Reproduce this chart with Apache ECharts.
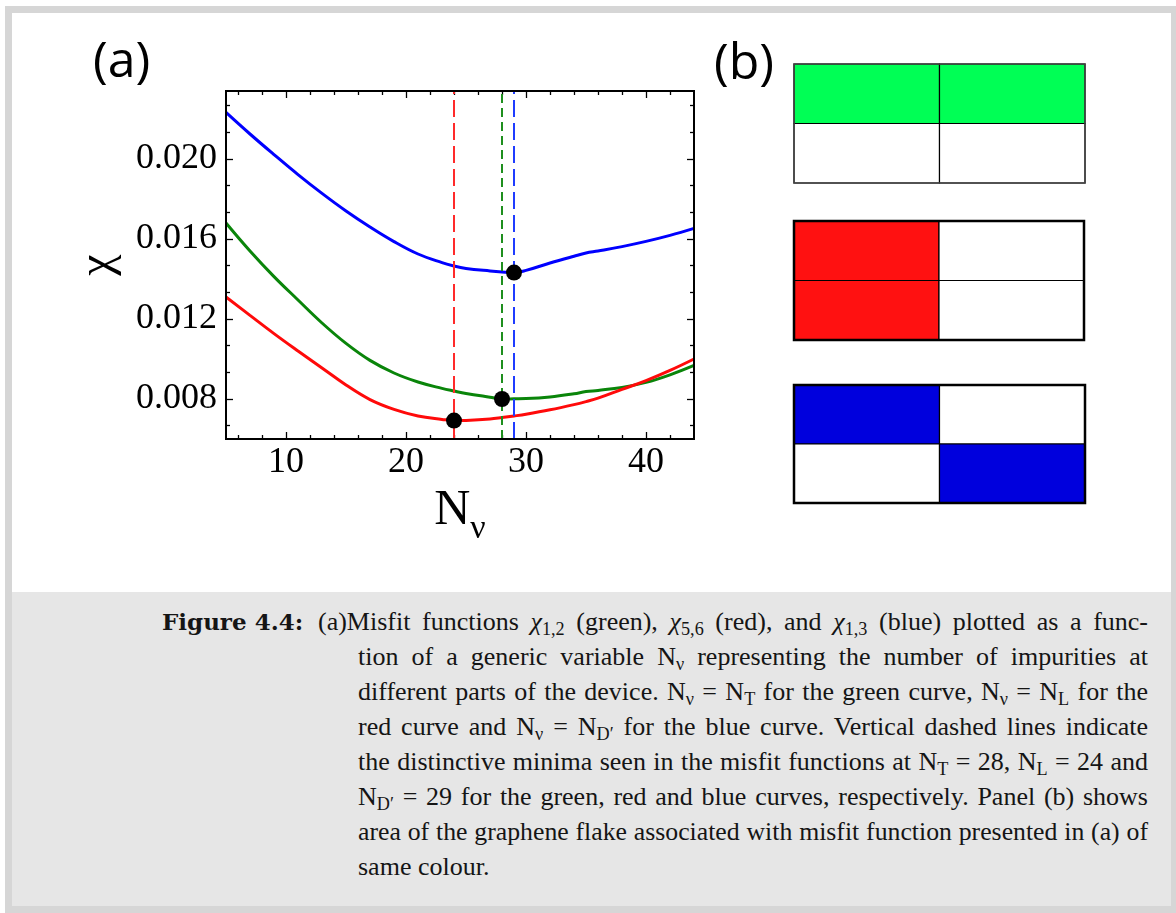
<!DOCTYPE html>
<html>
<head>
<meta charset="utf-8">
<title>Misfit functions</title>
<script src="https://cdn.jsdelivr.net/npm/echarts@6/dist/echarts.min.js"></script>
<style>
  html, body { margin: 0; padding: 0; background: #fff; }
  #frame { position: absolute; left: 5px; top: 6px; width: 1171px; height: 907px; box-sizing: border-box;
           border: 7px solid #d6d6d6; border-right-width: 5px; background: #fff; }
  #chart { position: absolute; left: 0; top: 0; width: 1176px; height: 590px; }
  #caption { position: absolute; left: 12px; top: 592px; width: 1159px; height: 314px; background: #e6e6e6;
             font-family: 'Liberation Serif', serif; font-size: 26px; color: #151515; }
  #caption .lbl { position: absolute; left: 150px; font-family: 'DejaVu Serif', serif; font-size: 23px;
                  font-weight: bold; white-space: nowrap; line-height: 30px; }
  #caption .ln { position: absolute; left: 346px; width: 790px; white-space: nowrap; line-height: 30px;
                 text-align: justify; text-align-last: justify; }
  #caption .ln.first { left: 306px; width: 830px; }
  #caption .ln.last { text-align: left; text-align-last: left; }
  #caption sub { font-size: 0.7em; vertical-align: -0.3em; line-height: 0; }
</style>
</head>
<body>
<div id="frame"></div>
<div id="chart"></div>
<div id="caption">
  <div class="lbl" style="top:15px">Figure 4.4:</div>
  <div class="ln first" style="top:15px">(a)Misfit functions <i>χ</i><sub>1,2</sub> (green), <i>χ</i><sub>5,6</sub> (red), and <i>χ</i><sub>1,3</sub> (blue) plotted as a func-</div>
  <div class="ln" style="top:50px">tion of a generic variable N<sub>ν</sub> representing the number of impurities at</div>
  <div class="ln" style="top:85px">different parts of the device. N<sub>ν</sub> = N<sub>T</sub> for the green curve, N<sub>ν</sub> = N<sub>L</sub> for the</div>
  <div class="ln" style="top:120px">red curve and N<sub>ν</sub> = N<sub>D′</sub> for the blue curve. Vertical dashed lines indicate</div>
  <div class="ln" style="top:155px">the distinctive minima seen in the misfit functions at N<sub>T</sub> = 28, N<sub>L</sub> = 24 and</div>
  <div class="ln" style="top:190px">N<sub>D′</sub> = 29 for the green, red and blue curves, respectively. Panel (b) shows</div>
  <div class="ln" style="top:225px">area of the graphene flake associated with misfit function presented in (a) of</div>
  <div class="ln last" style="top:260px">same colour.</div>
</div>
<script>
// Sampled impurity counts N_nu and the three misfit functions
const nuValues = [5, 7, 9, 11, 13, 15, 17, 19, 21, 23, 24, 25, 27, 28, 29, 30, 32, 34, 35, 36, 38, 40, 42, 44];
const chiGreen = [0.01680, 0.01540, 0.01412, 0.01295, 0.01180, 0.01078, 0.00993, 0.00930, 0.00885, 0.00853, 0.00840, 0.00828,
                  0.00809, 0.00800, 0.00801, 0.00802, 0.00810, 0.00826, 0.00837, 0.00843, 0.00858, 0.00883, 0.00921, 0.00968];
const chiRed   = [0.01310, 0.01218, 0.01127, 0.01040, 0.00955, 0.00870, 0.00797, 0.00748, 0.00715, 0.00698, 0.00692, 0.00693,
                  0.00700, 0.00707, 0.00715, 0.00724, 0.00746, 0.00772, 0.00787, 0.00804, 0.00848, 0.00892, 0.00943, 0.01000];
const chiBlue  = [0.02233, 0.02125, 0.02022, 0.01922, 0.01828, 0.01740, 0.01660, 0.01587, 0.01525, 0.01482, 0.01465, 0.01453,
                  0.01440, 0.01435, 0.01432, 0.01443, 0.01480, 0.01514, 0.01530, 0.01540, 0.01562, 0.01588, 0.01618, 0.01653];

// Positions of the distinctive minima (dashed lines and dots)
const minGreen = 28;
const minRed = 24;
const minBlue = 29;

// Axis ticks
const xMajorTicks = [10, 20, 30, 40];
const xMinorTicks = [6, 8, 12, 14, 16, 18, 22, 24, 26, 28, 32, 34, 36, 38, 42];
const yMajorTicks = [0.008, 0.012, 0.016, 0.020];
const yMinorTicks = [0.00667, 0.00933, 0.01067, 0.01333, 0.01467, 0.01733, 0.01867, 0.02133, 0.02267];
const xRange = [5, 44];
const yRange = [0.006, 0.0234];

// Panel (b): 2x2 flake areas, [column, row, highlighted]
const flakeCols = ['left', 'right'];
const flakeRows = ['upper', 'lower'];
const greenArea = [[0, 0, 1], [1, 0, 1], [0, 1, 0], [1, 1, 0]];
const redArea   = [[0, 0, 1], [1, 0, 0], [0, 1, 1], [1, 1, 0]];
const blueArea  = [[0, 0, 1], [1, 0, 0], [0, 1, 0], [1, 1, 1]];

const GREEN = '#0a850a', RED = '#ff0a0a', BLUE = '#0000ff';
const serif = "'Liberation Serif', 'Times New Roman', serif";
const sans = "'Open Sans', 'DejaVu Sans', sans-serif";

function pairs(ys) { return nuValues.map((x, i) => [x, ys[i]]); }
function valueAt(ys, x) { return ys[nuValues.indexOf(x)]; }

const chart = echarts.init(document.getElementById('chart'), null, { renderer: 'canvas' });

function tickAxis(dim, position, values, len, opts) {
  const range = dim === 'x' ? xRange : yRange;
  return Object.assign({
    type: 'value', gridIndex: 0, position: position, min: range[0], max: range[1],
    axisLine: { show: false },
    splitLine: { show: false },
    axisTick: { show: true, inside: true, length: len, customValues: values, lineStyle: { color: '#000', width: 1.3 } },
    axisLabel: { show: false }
  }, opts || {});
}

function cellRenderer(color) {
  return function (params, api) {
    const c = api.coord([api.value(0), api.value(1)]);
    const s = api.size([1, 1]);
    return {
      type: 'rect',
      shape: { x: c[0] - s[0] / 2, y: c[1] - s[1] / 2, width: s[0], height: s[1] },
      style: { fill: api.value(2) ? color : '#ffffff', stroke: '#000', lineWidth: 1.2 }
    };
  };
}

const panelGrids = [
  { left: 794, top: 64, width: 291, height: 119, borderColor: '#444', borderWidth: 1.5 },
  { left: 794, top: 221, width: 290, height: 119, borderColor: '#000', borderWidth: 2.5 },
  { left: 794, top: 385, width: 291, height: 118, borderColor: '#000', borderWidth: 2.5 }
];
const panelData = [[greenArea, '#00ff55'], [redArea, '#ff1111'], [blueArea, '#0000dd']];

const grids = [{ left: 226, top: 91, width: 468, height: 348, show: true, borderColor: '#000', borderWidth: 2,
                 backgroundColor: 'transparent', z: 10, containLabel: false, outerBoundsMode: 'none' }];
panelGrids.forEach(g => grids.push(Object.assign({ show: true, backgroundColor: 'transparent', z: 10,
                                                   containLabel: false, outerBoundsMode: 'none' }, g)));

const xAxes = [
  tickAxis('x', 'bottom', xMajorTicks, 7, {
    axisLabel: { show: true, customValues: xMajorTicks, margin: 6, color: '#000', fontFamily: serif, fontSize: 36,
                 formatter: v => String(v) },
    name: '{n|N}{s|ν}', nameLocation: 'middle', nameGap: 35,
    nameTextStyle: { color: '#000', fontFamily: serif,
      rich: { n: { fontSize: 50, fontFamily: serif, color: '#000', verticalAlign: 'top' },
              s: { fontSize: 34, fontFamily: serif, color: '#000', verticalAlign: 'top', padding: [26, 0, 0, 0] } } }
  }),
  tickAxis('x', 'bottom', xMinorTicks, 4),
  tickAxis('x', 'top', xMajorTicks, 7),
  tickAxis('x', 'top', xMinorTicks, 4)
];
const yAxes = [
  tickAxis('y', 'left', yMajorTicks, 7, {
    axisLabel: { show: true, customValues: yMajorTicks, margin: 9, color: '#000', fontFamily: serif, fontSize: 36,
                 formatter: v => v.toFixed(3) },
    name: 'χ', nameLocation: 'middle', nameGap: 104, nameRotate: 90,
    nameTextStyle: { color: '#000', fontFamily: serif, fontSize: 48 }
  }),
  tickAxis('y', 'left', yMinorTicks, 4),
  tickAxis('y', 'right', yMajorTicks, 7),
  tickAxis('y', 'right', yMinorTicks, 4)
];
panelGrids.forEach((g, i) => {
  xAxes.push({ type: 'category', gridIndex: i + 1, data: flakeCols, show: false });
  yAxes.push({ type: 'category', gridIndex: i + 1, data: flakeRows, inverse: true, show: false });
});

function dashed(x, color, dash) {
  return {
    silent: true, symbol: ['none', 'none'], label: { show: false }, animation: false,
    lineStyle: { color: color, type: dash, width: 2, opacity: 1 },
    data: [{ xAxis: x }]
  };
}

const series = [
  { type: 'line', name: 'chi13', data: pairs(chiBlue), xAxisIndex: 0, yAxisIndex: 0, showSymbol: false, smooth: 0.4,
    lineStyle: { color: BLUE, width: 3 }, markLine: dashed(minBlue, '#1f3cff', [17, 6]) },
  { type: 'line', name: 'chi12', data: pairs(chiGreen), xAxisIndex: 0, yAxisIndex: 0, showSymbol: false, smooth: 0.4,
    lineStyle: { color: GREEN, width: 3 }, markLine: dashed(minGreen, '#1e8f1e', [9, 5]) },
  { type: 'line', name: 'chi56', data: pairs(chiRed), xAxisIndex: 0, yAxisIndex: 0, showSymbol: false, smooth: 0.4,
    lineStyle: { color: RED, width: 3 }, markLine: dashed(minRed, '#ff2a2a', [17, 6]) },
  { type: 'scatter', xAxisIndex: 0, yAxisIndex: 0, symbolSize: 16, z: 12,
    itemStyle: { color: '#000', opacity: 1, borderWidth: 0 },
    emphasis: { disabled: true },
    data: [[minRed, valueAt(chiRed, minRed)], [minGreen, valueAt(chiGreen, minGreen)], [minBlue, valueAt(chiBlue, minBlue)]] }
];
panelData.forEach((p, i) => {
  series.push({ type: 'custom', xAxisIndex: 4 + i, yAxisIndex: 4 + i, data: p[0], renderItem: cellRenderer(p[1]) });
});

chart.setOption({
  animation: false,
  backgroundColor: 'transparent',
  title: [
    { text: '(a)', left: 93, top: 38, padding: 0, textStyle: { fontFamily: sans, fontSize: 50, fontWeight: 'normal', color: '#000' } },
    { text: '(b)', left: 714, top: 40, padding: 0, textStyle: { fontFamily: sans, fontSize: 50, fontWeight: 'normal', color: '#000' } }
  ],
  grid: grids,
  xAxis: xAxes,
  yAxis: yAxes,
  series: series
});

// Shrink any caption line whose natural width would not fit its measure
document.querySelectorAll('#caption .ln').forEach(el => {
  let fs = 26;
  while (el.scrollWidth > el.clientWidth + 0.5 && fs > 18) {
    fs -= 0.25;
    el.style.fontSize = fs + 'px';
  }
});
</script>
</body>
</html>
